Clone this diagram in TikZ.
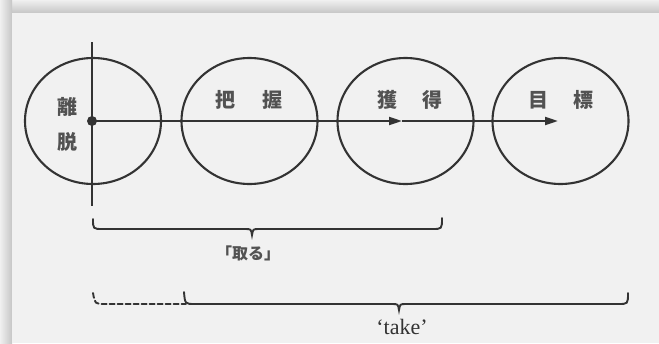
\documentclass[tikz,border=0pt]{standalone}
\usepackage{fontspec}
\setmainfont{Liberation Serif}
\newfontfamily\jp{Noto Sans CJK JP}
\usetikzlibrary{arrows.meta,shapes.geometric}
\definecolor{ink}{HTML}{333333}
\definecolor{paper}{HTML}{F1F1F1}
\begin{document}
\begin{tikzpicture}[x=1pt,y=-1pt,
  ring/.style={ellipse,draw=ink,line width=2.1pt,minimum width=136pt,minimum height=126pt,inner sep=0pt},
  kanji/.style={text=ink!85,font=\jp\bfseries\fontsize{20}{20}\selectfont,inner sep=0pt},
  ln/.style={draw=ink,line width=2.1pt},
  tip/.style={-{Triangle[length=13pt,width=8pt]}},
  brc/.style={draw=ink,line width=1.9pt,line cap=round},
  lbl/.style={text=ink,inner sep=0pt}]
% background / page
\useasboundingbox (0,0) rectangle (659,343);
\fill[paper] (0,0) rectangle (659,343);
\shade[top color=gray!12,bottom color=gray!45] (0,0) rectangle (659,13);
\shade[left color=gray!12,right color=gray!45] (0,0) rectangle (12,343);
\fill[paper] (12,13) rectangle (659,343);
% circles
\node[ring] (c1) at (93,121) {};
\node[ring] (c2) at (249.5,121) {};
\node[ring] (c3) at (405.5,121) {};
\node[ring] (c4) at (560.5,121) {};
% labels inside circles
\node[kanji] (t1) at (67,107) {離};
\node[kanji] (t2) at (67,142) {脱};
\node[kanji] (t3) at (225,100) {把};
\node[kanji] (t4) at (272,100) {握};
\node[kanji] (t5) at (387,100) {獲};
\node[kanji] (t6) at (432,100) {得};
\node[kanji] (t7) at (538,100) {目};
\node[kanji] (t8) at (583,100) {標};
% axes
\coordinate (vtop) at (92,42);
\coordinate (vbot) at (92,206);
\coordinate (o) at (92,121);
\coordinate (m) at (402,121);
\coordinate (e) at (558,121);
\draw[ln] (vtop) -- (vbot);
\draw[ln,tip] (o) -- (m);
\draw[ln,tip] (m) -- (e);
\fill[ink] (o) circle (5pt);
% brace 1
\draw[brc] (93,219) .. controls (93,229) .. (103,229) -- (245,229)
  .. controls (251,229) .. (252,235) .. controls (253,229) .. (259,229)
  -- (432,229) .. controls (442,229) .. (442,218);
\node[lbl,font=\jp\bfseries\fontsize{16}{16}\selectfont,text=ink!85] (l1) at (248,253) {「取る」};
% brace 2
\draw[brc,dashed,dash pattern=on 5pt off 3pt] (93,293) .. controls (95,304) .. (105,304) -- (186,304);
\draw[brc] (184,292) .. controls (185,304) .. (195,304) -- (392,304)
  .. controls (398,304) .. (399,310) .. controls (400,304) .. (406,304)
  -- (618,304) .. controls (628,304) .. (628,293);
\node[lbl,font=\fontsize{22}{22}\selectfont] (l2) at (402,327) {‘take’};
\end{tikzpicture}
\end{document}
